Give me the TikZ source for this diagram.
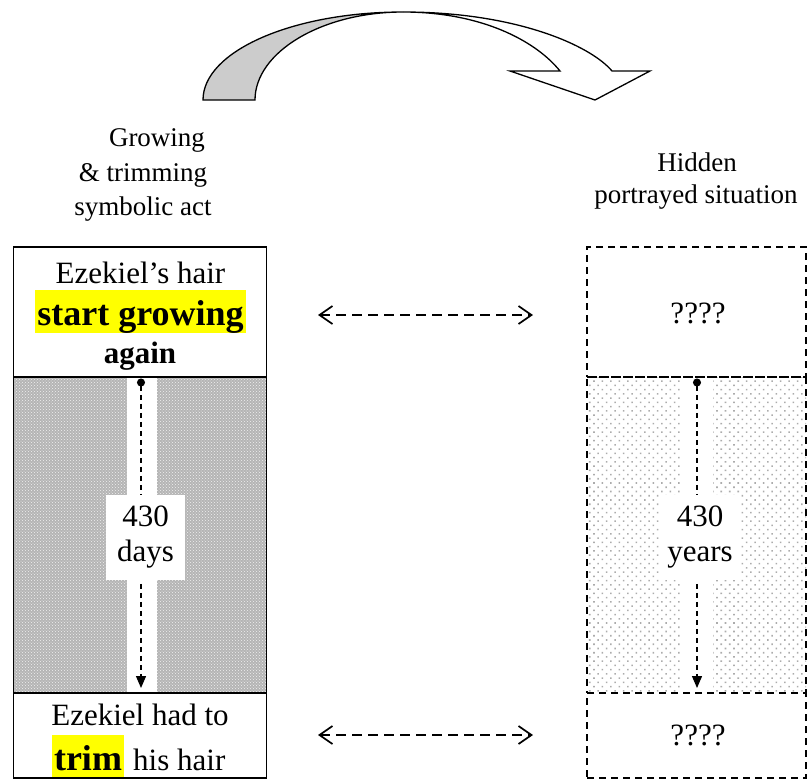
\documentclass[tikz,border=0pt]{standalone}
\usepackage{fontspec}
\setmainfont{Liberation Serif}
\usetikzlibrary{arrows.meta,patterns,patterns.meta}
\definecolor{hlyellow}{HTML}{FFFF00}
\begin{document}
\begin{tikzpicture}[x=1pt,y=-1pt,
  txt/.style={font=\fontsize{31}{35}\selectfont, inner sep=0pt, anchor=base},
  smalltxt/.style={font=\fontsize{27}{30}\selectfont, inner sep=0pt, anchor=base},
  bigbold/.style={font=\fontsize{36}{40}\selectfont\bfseries, fill=hlyellow, inner xsep=2pt, inner ysep=0pt, anchor=base},
  boldtxt/.style={font=\fontsize{31}{35}\selectfont\bfseries, inner sep=0pt, anchor=base},
  solidbox/.style={draw, line width=1.8pt, inner sep=0pt, minimum width=253pt},
  dashbox/.style={draw, line width=1.8pt, dash pattern=on 7pt off 5pt, inner sep=0pt, minimum width=219pt},
  lblbox/.style={fill=white, inner sep=0pt, align=center, font=\fontsize{31}{35}\selectfont, minimum width=79pt, minimum height=85pt},
  harrow/.style={line width=1.7pt, dash pattern=on 10pt off 6pt, {Straight Barb[length=13pt,width=18pt,line width=1.7pt]}-{Straight Barb[length=13pt,width=18pt,line width=1.7pt]}},
  varrow/.style={line width=1.3pt, dash pattern=on 5pt off 4pt, {Circle[length=8pt,width=8pt]}-{Triangle[length=12pt,width=10pt]}},
  arcline/.style={line width=1.3pt, line join=miter}
]
\useasboundingbox (0,0) rectangle (808,780);

% curved arrow at top
\filldraw[arcline, fill=gray!40] (203,100) .. controls (203,51) and (293,12) .. (403,12)
   .. controls (322,12) and (255,52) .. (255,100) -- cycle;
\filldraw[arcline, fill=white] (403,12) .. controls (515,12) and (590,45) .. (612,71)
   -- (650,71) -- (595,100) -- (510,71) -- (560,71)
   .. controls (535,40) and (480,12) .. (403,12) -- cycle;

% headings
\node[smalltxt] (g1) at (157,146) {Growing};
\node[smalltxt] (g2) at (143,181) {\& trimming};
\node[smalltxt] (g3) at (143,215) {symbolic act};
\node[smalltxt] (h1) at (697,171) {Hidden};
\node[smalltxt] (h2) at (696,203) {portrayed situation};

% left column
\node[solidbox, minimum height=316pt, preaction={fill=gray!58}, pattern=crosshatch dots, pattern color=gray!12] (lmid) at (140,535) {};
\fill[white] (127,377) rectangle (157,693);
\node[solidbox, minimum height=130pt] (ltop) at (140,312) {};
\node[solidbox, minimum height=85pt] (lbot) at (140,735.5) {};

\coordinate (la) at (141,378.5);
\coordinate (lb) at (141,688);
\draw[varrow] (la) -- (lb);
\node[lblbox] (ldays) at (145.5,537.5) {430\\days};

\node[txt] (l1) at (140.5,283) {Ezekiel’s hair};
\node[bigbold, text height=35pt, text depth=8pt] (l2) at (140.5,325) {start growing};
\node[boldtxt] (l3) at (140,363) {again};
\node[txt] (l4) at (140,725) {Ezekiel had to};
\node[bigbold, text height=35pt, text depth=7pt] (l5) at (88,770) {trim};
\node[txt, anchor=base west] (l6) at (133,770) {his hair};

% right column
\path[pattern={Dots[distance=6pt, radius=1.1pt, angle=45]}, pattern color=gray!65] (587,377) rectangle (806,693);
\fill[white] (682,377) rectangle (713,693);
\node[dashbox, minimum height=130pt] (rtop) at (696.5,312) {};
\node[dashbox, minimum height=316pt] (rmid) at (696.5,535) {};
\node[dashbox, minimum height=85pt] (rbot) at (696.5,735.5) {};

\coordinate (ra) at (697,378.5);
\coordinate (rb) at (697,688);
\draw[varrow] (ra) -- (rb);
\node[lblbox] (ryears) at (700,537.5) {430\\years};

\node[txt] (r1) at (698,323) {????};
\node[txt] (r2) at (698,745) {????};

% horizontal double arrows
\coordinate (ha1) at (318,315);
\coordinate (hb1) at (533,315);
\coordinate (ha2) at (318,735);
\coordinate (hb2) at (533,735);
\draw[harrow] (ha1) -- (hb1);
\draw[harrow] (ha2) -- (hb2);
\end{tikzpicture}
\end{document}
